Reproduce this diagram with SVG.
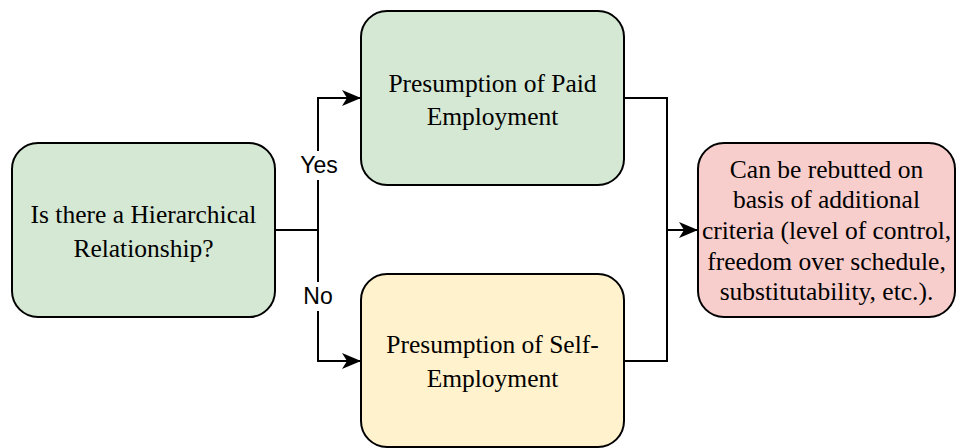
<svg xmlns="http://www.w3.org/2000/svg" width="956" height="448" viewBox="0 0 956 448">
<style>
.box{stroke:#000;stroke-width:2}
.t{font-family:"Liberation Serif",serif;font-size:25.5px;fill:#000;text-anchor:middle}
.lbl{font-family:"Liberation Sans",Arial,sans-serif;font-size:23px;fill:#000;text-anchor:middle}
.c{fill:none;stroke:#000;stroke-width:2}
</style>
<defs>
<marker id="ah" viewBox="0 0 19 16" refX="18" refY="8" markerWidth="19" markerHeight="16" markerUnits="userSpaceOnUse" orient="auto">
<path d="M0,0 L19,8 L0,16 L5,8 Z" fill="#000"/>
</marker>
</defs>
<rect width="956" height="448" fill="#fff"/>
<g id="connectors">
<path class="c" d="M275,230 H318 V98 H360" marker-end="url(#ah)"/>
<path class="c" d="M318,230 V361 H360" marker-end="url(#ah)"/>
<path class="c" d="M624,98 H667 V361 H624"/>
<path class="c" d="M667,230 H697" marker-end="url(#ah)"/>
<rect x="298" y="151" width="42" height="29" fill="#fff"/>
<text class="lbl" x="319" y="173">Yes</text>
<rect x="301" y="282" width="34" height="29" fill="#fff"/>
<text class="lbl" x="318" y="304">No</text>
</g>
<g id="n1">
<rect class="box" x="12" y="143" width="263" height="174" rx="26" fill="#d5e8d4"/>
<text class="t" x="143.5" y="223">Is there a Hierarchical</text>
<text class="t" x="143.5" y="257">Relationship?</text>
</g>
<g id="n2">
<rect class="box" x="361" y="11" width="263" height="174" rx="26" fill="#d5e8d4"/>
<text class="t" x="492.5" y="92">Presumption of Paid</text>
<text class="t" x="492.5" y="125">Employment</text>
</g>
<g id="n3">
<rect class="box" x="361" y="274" width="263" height="173" rx="26" fill="#fff2cc"/>
<text class="t" x="492.5" y="353">Presumption of Self-</text>
<text class="t" x="492.5" y="387">Employment</text>
</g>
<g id="n4">
<rect class="box" x="698" y="143" width="257" height="174" rx="26" fill="#f8cecc"/>
<text class="t" x="826.5" y="178">Can be rebutted on</text>
<text class="t" x="826.5" y="208">basis of additional</text>
<text class="t" x="826.5" y="239">criteria (level of control,</text>
<text class="t" x="826.5" y="270">freedom over schedule,</text>
<text class="t" x="826.5" y="300">substitutability, etc.).</text>
</g>
</svg>
